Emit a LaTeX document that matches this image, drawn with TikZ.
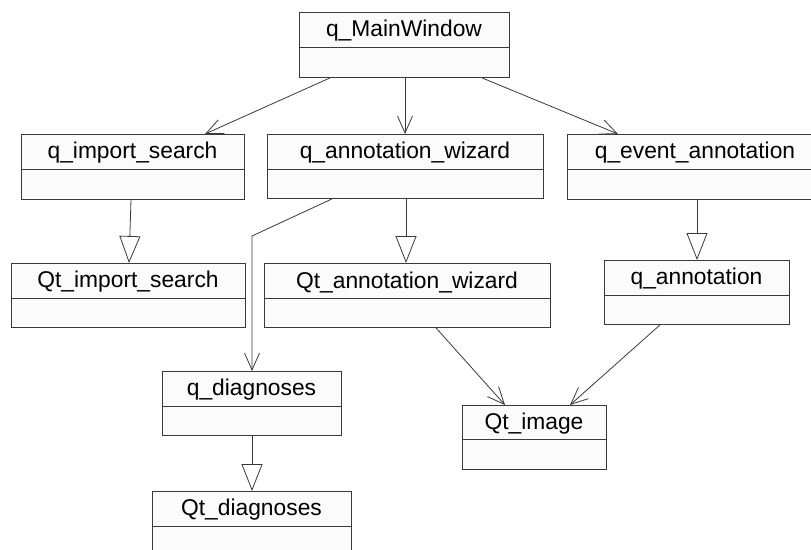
\documentclass[tikz,border=0pt]{standalone}
\usepackage{fontspec}
\setmainfont{Liberation Sans}
\usetikzlibrary{arrows.meta}

\definecolor{edgegray}{HTML}{3A3A3A}
\definecolor{boxfill}{HTML}{FBFBFB}

\tikzset{
  classbody/.style={draw=edgegray, fill=boxfill, line width=0.9pt,
    rectangle, inner sep=0pt, anchor=north west},
  classname/.style={inner sep=0pt, yshift=-1.5pt,
    font=\fontsize{22.8}{26}\selectfont},
  divider/.style={draw=edgegray, line width=0.9pt},
  assoc/.style={draw=edgegray, line width=0.8pt,
    -{Straight Barb[length=17pt, width=15pt, line width=0.8pt]}},
  inherit/.style={draw=edgegray, line width=0.8pt,
    -{Triangle[open, length=27pt, width=21pt, line width=0.8pt, fill=white]}},
}

% UML class with a name compartment and an empty attribute compartment
% #1 node name, #2 left, #3 top, #4 right, #5 divider y, #6 bottom, #7 label
\newcommand\umlclass[7]{%
  \node[classbody, minimum width={(#4-#2)*1pt}, minimum height={(#6-#3)*1pt}]
    (#1) at (#2,#3) {};
  \draw[divider] (#1.west |- 0,#5) -- (#1.east |- 0,#5);
  \node[classname] (#1-label) at ({(#2+#4)/2},{(#3+#5)/2}) {#7};
}

\begin{document}
\begin{tikzpicture}[x=1pt, y=-1pt]
  \useasboundingbox (0,0) rectangle (811,549);
  \clip (0,0) rectangle (811,549);
  \fill[white] (0,0) rectangle (811,549);

  % classes
  \umlclass{mw}{299}{12}{509}{47}{77}{q\_MainWindow}
  \umlclass{is}{21}{134}{244}{169}{199}{q\_import\_search}
  \umlclass{aw}{267}{134}{543}{169}{198}{q\_annotation\_wizard}
  \umlclass{ea}{567}{134}{823}{169}{199}{q\_event\_annotation}
  \umlclass{qtis}{11}{263}{245}{298}{327}{Qt\_import\_search}
  \umlclass{qtaw}{264}{263}{550}{298}{327}{Qt\_annotation\_wizard}
  \umlclass{qann}{604}{260}{789}{295}{324}{q\_annotation}
  \umlclass{qdiag}{162}{371}{341}{406}{435}{q\_diagnoses}
  \umlclass{qtimg}{462}{405}{606}{439}{469}{Qt\_image}
  \umlclass{qtdiag}{152}{491}{351}{526}{570}{Qt\_diagnoses}

  % associations
  \draw[assoc] (mw.south -| 330,0) -- (is.north -| 205,0);
  \draw[assoc] (mw.south -| 405,0) -- (aw.north -| 405,0);
  \draw[assoc] (mw.south -| 482,0) -- (ea.north -| 618,0);
  \coordinate (bend) at (252,236);
  \draw[assoc] (aw.south -| 332,0) -- (bend) -- (qdiag.north -| bend);
  \draw[assoc] (qtaw.south -| 436,0) -- (qtimg.north -| 505,0);
  \draw[assoc] (qann.south -| 660,0) -- (qtimg.north -| 570,0);

  % generalisations
  \draw[inherit] (is.south -| 131,0) -- (qtis.north -| 129,0);
  \draw[inherit] (aw.south -| 406,0) -- (qtaw.north -| 406,0);
  \draw[inherit] (ea.south -| 697,0) -- (qann.north -| 697,0);
  \draw[inherit] (qdiag.south -| 252,0) -- (qtdiag.north -| 252,0);
\end{tikzpicture}
\end{document}
